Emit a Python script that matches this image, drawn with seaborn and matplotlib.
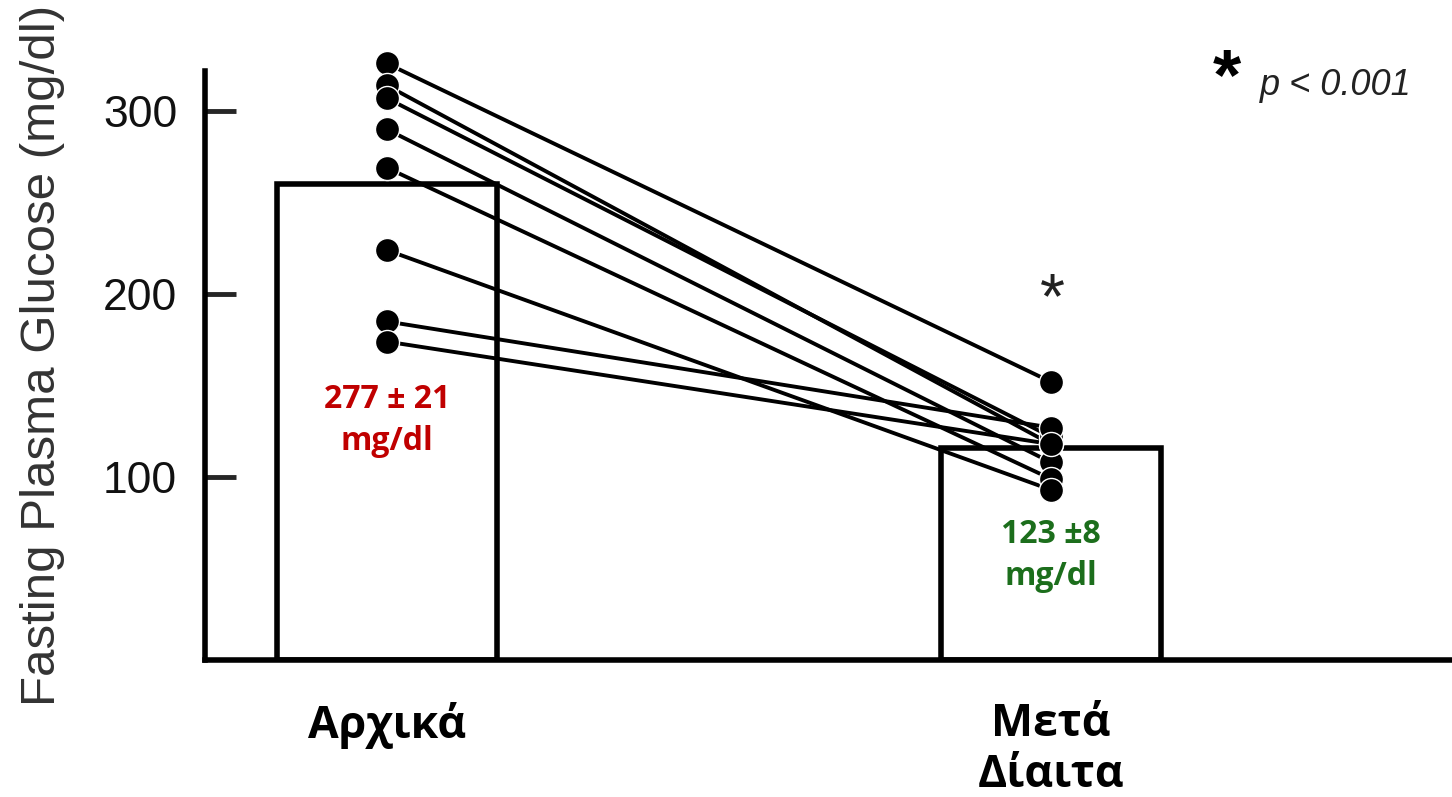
import pandas as pd
import matplotlib
matplotlib.use('Agg')
import matplotlib.pyplot as plt
import seaborn as sns

# données
groupes = ['Αρχικά', 'Μετά\nΔίαιτα']
hauteurs_barres = [260, 116]
avant = [326, 314, 307, 290, 269, 224, 185, 174]
apres = [152, 118, 122, 108, 99, 93, 127, 118]
yticks = [100, 200, 300]
moyennes = ['277 ± 21\nmg/dl', '123 ±8\nmg/dl']
couleurs_moy = ['#c00000', '#1c6e1c']

sns.set_theme(style='white')
plt.rcParams['font.family'] = ['Liberation Sans', 'DejaVu Sans']
gras = ['Open Sans', 'DejaVu Sans']

df_bar = pd.DataFrame({'groupe': groupes, 'valeur': hauteurs_barres})
n = len(avant)
df_pts = pd.DataFrame({
    'sujet': list(range(n)) * 2,
    'x': [0] * n + [1] * n,
    'valeur': avant + apres,
})

fig = plt.figure(figsize=(14.52, 7.97), dpi=100)
ax = fig.add_axes([205 / 1452, 137 / 797, 1247 / 1452, 660 / 797])

sns.barplot(data=df_bar, x='groupe', y='valeur', order=groupes, width=0.331,
            color='white', edgecolor='black', linewidth=4, ax=ax, zorder=1)
sns.lineplot(data=df_pts, x='x', y='valeur', units='sujet', estimator=None,
             color='black', linewidth=2.8, ax=ax, zorder=2, legend=False)
sns.scatterplot(data=df_pts, x='x', y='valeur', color='black', s=300,
                edgecolor='white', linewidth=1, ax=ax, zorder=3, legend=False)

ax.set_xlim(-0.274, 1.604)
ax.set_ylim(0, 360.7)
ax.set_yticks(yticks)
ax.set_yticklabels([str(t) for t in yticks], fontsize=32, color='#111111')
ax.tick_params(axis='y', direction='in', length=22, width=3.5, pad=20, left=True)
ax.tick_params(axis='x', length=0, pad=30)
ax.set_xticks([0, 1])
ax.set_xticklabels(groupes, fontsize=32, fontweight='bold', color='black',
                   family=gras, linespacing=1.2, va='top')
ax.set_xlabel('')
ax.set_ylabel('Fasting Plasma Glucose (mg/dl)', fontsize=35.5, color='#333333')
ax.yaxis.set_label_coords(-0.112, 0.462)

for side in ['top', 'right']:
    ax.spines[side].set_visible(False)
ax.spines['left'].set_linewidth(4)
ax.spines['bottom'].set_linewidth(4)
ax.spines['left'].set_color('black')
ax.spines['bottom'].set_color('black')
ax.spines['left'].set_bounds(0, 322)

for i, txt in enumerate(moyennes):
    yy = 131 if i == 0 else 57
    ax.text(i, yy, txt, ha='center', va='center', fontsize=23, fontweight='bold',
            color=couleurs_moy[i], family=gras, linespacing=1.35)

ax.text(1.002, 196, '*', ha='center', va='center', fontsize=46, color='#222222')
ax.text(1.265, 317, '*', ha='center', va='center', fontsize=52, fontweight='bold', color='black')
ax.text(1.314, 314, 'p < 0.001', ha='left', va='center', fontsize=26, style='italic', color='#222222')

fig.savefig('out.png', dpi=100)
